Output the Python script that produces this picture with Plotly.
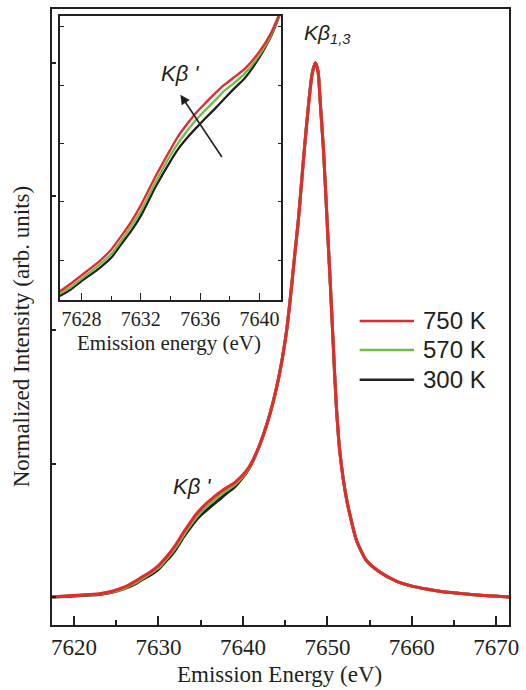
import plotly.graph_objects as go

# ---------------- data ----------------
energy = [7617.4, 7619, 7621, 7623, 7624.5, 7626, 7626.5, 7627.3, 7628, 7629.2,
          7630, 7630.7, 7631.4, 7632, 7633, 7634, 7634.5, 7635.2, 7635.7, 7636.3,
          7637, 7637.6, 7638.2, 7639, 7640, 7640.7, 7641.2, 7641.7, 7642.2, 7642.7,
          7643.2, 7643.7, 7644.2, 7644.7, 7645.2, 7645.65, 7646.1, 7646.6, 7647.2, 7647.8,
          7648.2, 7648.58, 7648.9, 7649.15, 7649.55, 7649.95, 7650.35, 7650.7, 7651.05, 7651.5,
          7652.3, 7653.45, 7654.6, 7656.2, 7658.15, 7659.7, 7661.7, 7663.7, 7665.7, 7667.7,
          7669.7, 7671.5]

int_750 = [0.000, 0.002, 0.004, 0.0065, 0.011, 0.019, 0.023, 0.030, 0.037, 0.049,
           0.059, 0.071, 0.084, 0.097, 0.122, 0.145, 0.156, 0.168, 0.176, 0.184,
           0.193, 0.200, 0.206, 0.214, 0.229, 0.243, 0.257, 0.274, 0.294, 0.317,
           0.343, 0.373, 0.408, 0.450, 0.502, 0.565, 0.635, 0.712, 0.825, 0.927,
           0.980, 1.000, 0.983, 0.927, 0.834, 0.709, 0.585, 0.470, 0.360, 0.268,
           0.181, 0.106, 0.069, 0.047, 0.030, 0.022, 0.015, 0.010, 0.007, 0.004,
           0.002, 0.000]

int_570 = [0.000, 0.002, 0.004, 0.006, 0.010, 0.017, 0.021, 0.027, 0.034, 0.046,
           0.055, 0.067, 0.080, 0.092, 0.117, 0.140, 0.150, 0.162, 0.170, 0.178,
           0.187, 0.195, 0.201, 0.210, 0.226, 0.241, 0.256, 0.273, 0.294, 0.317,
           0.343, 0.373, 0.408, 0.450, 0.502, 0.565, 0.635, 0.712, 0.825, 0.927,
           0.980, 1.000, 0.983, 0.927, 0.834, 0.709, 0.585, 0.470, 0.360, 0.268,
           0.181, 0.106, 0.069, 0.047, 0.030, 0.022, 0.015, 0.010, 0.007, 0.004,
           0.002, 0.000]

int_300 = [0.000, 0.001, 0.003, 0.005, 0.009, 0.016, 0.019, 0.025, 0.032, 0.043,
           0.052, 0.064, 0.076, 0.088, 0.113, 0.135, 0.145, 0.156, 0.163, 0.171,
           0.180, 0.188, 0.196, 0.206, 0.224, 0.240, 0.255, 0.273, 0.293, 0.317,
           0.343, 0.373, 0.408, 0.450, 0.502, 0.565, 0.635, 0.712, 0.825, 0.927,
           0.980, 1.000, 0.983, 0.927, 0.834, 0.709, 0.585, 0.470, 0.360, 0.268,
           0.181, 0.106, 0.069, 0.047, 0.030, 0.022, 0.015, 0.010, 0.007, 0.004,
           0.002, 0.000]

series_labels = ["750 K", "570 K", "300 K"]

main_xticks = [7620, 7630, 7640, 7650, 7660, 7670]
main_xminor = [7625, 7635, 7645, 7655, 7665]
main_yticks = [0.0, 0.25, 0.5, 0.75, 1.0]
inset_xticks = [7628, 7632, 7636, 7640]
inset_xminor = [7630, 7634, 7638]
inset_yticks = [0.05, 0.10, 0.15, 0.20, 0.25]

# ---------------- style ----------------
RED = "#E8282C"
GREEN = "#6EBE45"
BLACK = "#231F20"
INK = "#231F20"
SERIF = "Liberation Serif"
SANS = "Liberation Sans"

W, H = 526, 690
ML, MR, MT, MB = 52, 12, 7, 65
PW = W - ML - MR
PH = H - MT - MB


def px_x(p):
    return (p - ML) / PW


def px_y(p):
    return (H - MB - p) / PH


fig = go.Figure()

series = [(int_300, series_labels[2], BLACK),
          (int_570, series_labels[1], GREEN),
          (int_750, series_labels[0], RED)]

for vals, name, col in series:
    fig.add_trace(go.Scatter(x=energy, y=vals, name=name, mode="lines",
                             line=dict(color=col, width=3, shape="spline", smoothing=0.6),
                             showlegend=False, xaxis="x", yaxis="y"))
for vals, name, col in series:
    fig.add_trace(go.Scatter(x=energy, y=vals, name=name, mode="lines",
                             line=dict(color=col, width=2.3, shape="spline", smoothing=0.6),
                             showlegend=False, xaxis="x2", yaxis="y2"))

fig.update_layout(
    width=W, height=H,
    margin=dict(l=ML, r=MR, t=MT, b=MB),
    paper_bgcolor="white", plot_bgcolor="white",
    font=dict(family=SERIF, color=INK),
    xaxis=dict(domain=[0, 1], range=[7617.4, 7671.5], tickvals=main_xticks,
               ticks="inside", ticklen=9, tickwidth=1.5, tickcolor=INK,
               minor=dict(tickvals=main_xminor, ticks="inside", ticklen=5, tickwidth=1.5, tickcolor=INK),
               showline=True, linewidth=2, linecolor=INK, mirror=True,
               showgrid=False, zeroline=False,
               tickfont=dict(family=SERIF, size=23, color=INK)),
    yaxis=dict(domain=[0, 1], range=[-0.0522, 1.1007], tickvals=main_yticks,
               ticks="inside", ticklen=4, tickwidth=1.5, tickcolor=INK,
               showticklabels=False, showline=True, linewidth=2, linecolor=INK,
               mirror=True, showgrid=False, zeroline=False),
    yaxis3=dict(overlaying="y", side="right", anchor="x", matches="y",
                tickvals=main_yticks, ticks="outside", ticklen=4, tickwidth=1.5,
                tickcolor=INK, showticklabels=False, showline=False,
                showgrid=False, zeroline=False),
    xaxis2=dict(domain=[px_x(60), px_x(284)], anchor="y2", range=[7626.55, 7641.48],
                tickvals=inset_xticks, ticks="inside", ticklen=7, tickwidth=1.3, tickcolor=INK,
                minor=dict(tickvals=inset_xminor, ticks="inside", ticklen=4, tickwidth=1.3, tickcolor=INK),
                showline=True, linewidth=1.6, linecolor=INK, mirror=True,
                showgrid=False, zeroline=False,
                tickfont=dict(family=SERIF, size=20, color=INK)),
    yaxis2=dict(domain=[px_y(299), px_y(14)], anchor="x2", range=[0.0158, 0.2594],
                tickvals=inset_yticks, ticks="inside", ticklen=4, tickwidth=1.3, tickcolor=INK,
                showticklabels=False, showline=True, linewidth=1.6, linecolor=INK,
                mirror="ticks", showgrid=False, zeroline=False),
)

annotations = [
    dict(text="Emission Energy (eV)", xref="paper", yref="paper", x=px_x(282), y=px_y(675),
         xanchor="center", yanchor="middle", showarrow=False,
         font=dict(family=SERIF, size=23, color=INK)),
    dict(text="Normalized Intensity (arb. units)", xref="paper", yref="paper",
         x=px_x(22), y=px_y(336), textangle=-90, xanchor="center", yanchor="middle",
         showarrow=False, font=dict(family=SERIF, size=23, color=INK)),
    dict(text="Emission energy (eV)", xref="paper", yref="paper", x=px_x(170), y=px_y(342),
         xanchor="center", yanchor="middle", showarrow=False,
         font=dict(family=SERIF, size=21, color=INK)),
    dict(text="<i>K\u03b2</i><sub><i>1,3</i></sub>", xref="paper", yref="paper",
         x=px_x(305), y=px_y(32), xanchor="left", yanchor="middle", showarrow=False,
         font=dict(family=SANS, size=21, color=INK)),
    dict(text="<i>K\u03b2 '</i>", xref="paper", yref="paper",
         x=px_x(194), y=px_y(486), xanchor="center", yanchor="middle", showarrow=False,
         font=dict(family=SANS, size=22, color=INK)),
    dict(text="<i>K\u03b2 '</i>", xref="paper", yref="paper",
         x=px_x(181), y=px_y(72), xanchor="center", yanchor="middle", showarrow=False,
         font=dict(family=SANS, size=22, color=INK)),
    dict(text="", xref="x2", yref="y2", axref="x2", ayref="y2",
         x=7634.67, y=0.1919, ax=7637.53, ay=0.1372, showarrow=True,
         arrowhead=2, arrowsize=1.2, arrowwidth=1.6, arrowcolor=INK),
]

legend_rows = [(series_labels[0], RED, 320), (series_labels[1], GREEN, 349), (series_labels[2], BLACK, 379)]
shapes = []
for name, col, yy in legend_rows:
    shapes.append(dict(type="line", xref="paper", yref="paper",
                       x0=px_x(363), x1=px_x(418), y0=px_y(yy), y1=px_y(yy),
                       line=dict(color=col, width=2.5)))
    annotations.append(dict(text=name, xref="paper", yref="paper", x=px_x(425), y=px_y(yy),
                            xanchor="left", yanchor="middle", showarrow=False,
                            font=dict(family=SANS, size=24, color=INK)))

fig.update_layout(annotations=annotations, shapes=shapes)

fig.write_html("out.html")
